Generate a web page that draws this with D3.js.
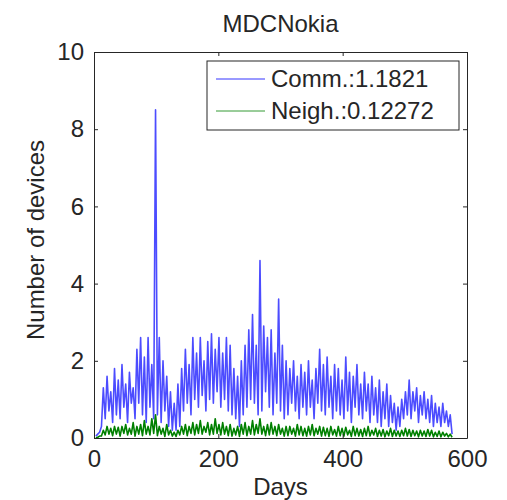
<!DOCTYPE html>
<html>
<head>
<meta charset="utf-8">
<script src="https://cdn.jsdelivr.net/npm/d3@7"></script>
<style>
  body { margin: 0; background: #fff; }
  text { font-family: "Liberation Sans", Arial, Helvetica, sans-serif; fill: #262626; }
</style>
</head>
<body>
<div id="chart"></div>
<script>
// sampling of the series: first day and step (days)
var startDay = 3, stepDay = 3;

// Comm. series (every 3 days)
var commValues = [
  0.05, 0.1, 0.15,
  0.3, 1.3, 0.5, 1.6, 0.7, 1.2, 0.4, 1.8, 0.6, 1.5,
  0.5, 1.9, 0.8, 1.4, 0.4, 1.7, 0.9, 1.3, 0.5, 2.3,
  0.9, 2.6, 0.6, 2.1, 0.4, 2.6, 0.8, 1.9, 0.5, 8.5,
  0.6, 2.6, 0.4, 2.0, 0.7, 1.6, 0.3, 1.2, 0.2, 0.9,
  0.2, 1.4, 0.3, 1.8, 0.7, 2.3, 0.9, 1.9, 0.6, 2.6,
  1.0, 2.2, 0.8, 2.6, 1.1, 2.0, 0.7, 2.5, 1.0, 2.7,
  0.9, 2.3, 1.2, 2.6, 0.8, 2.2, 1.0, 2.6, 0.7, 2.4,
  0.6, 1.8, 0.5, 1.6, 0.3, 2.0, 0.6, 2.4, 0.8, 2.8,
  1.0, 3.2, 0.9, 2.4, 0.6, 4.6, 0.7, 2.9, 1.2, 2.6,
  0.8, 2.8, 0.6, 2.2, 0.9, 3.6, 0.7, 2.4, 0.5, 2.0,
  0.6, 1.8, 0.9, 2.0, 0.7, 1.6, 0.5, 1.9, 0.8, 1.7,
  0.6, 2.0, 0.8, 1.5, 0.5, 1.8, 0.9, 2.3, 0.7, 1.9,
  0.6, 2.1, 0.8, 1.6, 0.5, 1.9, 0.7, 1.8, 0.6, 1.5,
  0.5, 2.1, 0.7, 1.7, 0.4, 1.6, 0.8, 1.9, 0.6, 1.4,
  0.5, 1.7, 0.7, 1.4, 0.4, 1.6, 0.6, 1.3, 0.4, 1.5,
  0.3, 1.2, 0.5, 1.4, 0.3, 1.1, 0.4, 0.9, 0.2, 0.8,
  0.3, 1.0, 0.5, 1.2, 0.6, 1.5, 0.5, 1.2, 0.7, 1.3,
  0.4, 1.1, 0.6, 1.2, 0.5, 1.0, 0.4, 1.1, 0.3, 0.9,
  0.4, 0.8, 0.3, 0.9, 0.4, 0.7, 0.3, 0.6, 0.1
];

// Neigh. series (every 3 days)
var neighValues = [
  0.0, 0.02, 0.05,
  0.05, 0.2, 0.08, 0.3, 0.1, 0.25, 0.06, 0.3, 0.1, 0.28,
  0.05, 0.3, 0.12, 0.35, 0.08, 0.25, 0.1, 0.4, 0.05, 0.3,
  0.1, 0.35, 0.06, 0.45, 0.1, 0.3, 0.08, 0.5, 0.12, 0.6,
  0.06, 0.3, 0.1, 0.25, 0.04, 0.35, 0.08, 0.2, 0.05, 0.15,
  0.04, 0.2, 0.08, 0.3, 0.1, 0.35, 0.06, 0.3, 0.12, 0.4,
  0.08, 0.35, 0.12, 0.45, 0.1, 0.3, 0.15, 0.4, 0.08, 0.35,
  0.1, 0.5, 0.12, 0.35, 0.08, 0.4, 0.1, 0.3, 0.06, 0.35,
  0.05, 0.25, 0.08, 0.3, 0.04, 0.35, 0.1, 0.4, 0.06, 0.3,
  0.1, 0.45, 0.08, 0.35, 0.12, 0.5, 0.1, 0.3, 0.06, 0.35,
  0.08, 0.4, 0.1, 0.3, 0.06, 0.35, 0.1, 0.25, 0.05, 0.3,
  0.06, 0.3, 0.1, 0.25, 0.05, 0.35, 0.08, 0.3, 0.06, 0.25,
  0.05, 0.3, 0.08, 0.35, 0.06, 0.25, 0.1, 0.3, 0.05, 0.28,
  0.06, 0.25, 0.04, 0.3, 0.08, 0.22, 0.05, 0.3, 0.06, 0.25,
  0.05, 0.28, 0.08, 0.2, 0.04, 0.3, 0.06, 0.25, 0.05, 0.22,
  0.04, 0.25, 0.06, 0.3, 0.05, 0.2, 0.08, 0.25, 0.04, 0.2,
  0.05, 0.22, 0.03, 0.18, 0.06, 0.25, 0.04, 0.2, 0.05, 0.18,
  0.04, 0.2, 0.06, 0.25, 0.05, 0.22, 0.04, 0.2, 0.06, 0.18,
  0.03, 0.2, 0.05, 0.18, 0.04, 0.22, 0.05, 0.2, 0.03, 0.15,
  0.04, 0.18, 0.03, 0.15, 0.05, 0.12, 0.03, 0.1, 0.02
];

var seriesNames = ["Comm.:1.1821", "Neigh.:0.12272"];
var seriesColors = ["#0000ff", "#008000"];
var xTicks = [0, 200, 400, 600];
var yTicks = [0, 2, 4, 6, 8, 10];

// set the dimensions and margins of the graph
var margin = {top: 52, right: 40, bottom: 62, left: 94},
    width = 507 - margin.left - margin.right,
    height = 500 - margin.top - margin.bottom;

var svg = d3.select("#chart")
  .append("svg")
    .attr("width", 507)
    .attr("height", 500)
  .append("g")
    .attr("transform", "translate(" + margin.left + "," + margin.top + ")");

var x = d3.scaleLinear().domain([0, 600]).range([0, width]);
var y = d3.scaleLinear().domain([0, 10]).range([height, 0]);

function toPoints(vals) {
  return vals.map(function(v, i) { return {day: startDay + i * stepDay, v: v}; });
}

var line = d3.line()
  .x(function(d) { return x(d.day); })
  .y(function(d) { return y(d.v); });

svg.append("clipPath").attr("id", "clip")
  .append("rect").attr("width", width).attr("height", height);

svg.append("path")
  .datum(toPoints(commValues))
  .attr("clip-path", "url(#clip)")
  .attr("fill", "none")
  .attr("stroke", seriesColors[0])
  .attr("stroke-opacity", 0.7)
  .attr("stroke-width", 1.6)
  .attr("stroke-linejoin", "round")
  .attr("d", line);

svg.append("path")
  .datum(toPoints(neighValues))
  .attr("clip-path", "url(#clip)")
  .attr("fill", "none")
  .attr("stroke", seriesColors[1])
  .attr("stroke-width", 1.6)
  .attr("stroke-linejoin", "round")
  .attr("d", line);

// axes, MATLAB style: box with inward ticks on all sides
var tickLen = 4;
svg.append("g")
  .attr("transform", "translate(0," + height + ")")
  .call(d3.axisBottom(x).tickValues(xTicks).tickSizeInner(-tickLen).tickSizeOuter(0).tickPadding(12));
svg.append("g")
  .call(d3.axisTop(x).tickValues(xTicks).tickSizeInner(-tickLen).tickSizeOuter(0).tickFormat(""));
svg.append("g")
  .call(d3.axisLeft(y).tickValues(yTicks).tickSizeInner(-tickLen).tickSizeOuter(0).tickPadding(10));
svg.append("g")
  .attr("transform", "translate(" + width + ",0)")
  .call(d3.axisRight(y).tickValues(yTicks).tickSizeInner(-tickLen).tickSizeOuter(0).tickFormat(""));

svg.selectAll(".domain").attr("stroke", "#262626").attr("stroke-width", 1);
svg.selectAll(".tick line").attr("stroke", "#262626");
svg.selectAll(".tick text")
  .style("font-family", "'Liberation Sans', Arial, sans-serif")
  .style("font-size", "24px")
  .attr("fill", "#262626");

// title and labels
svg.append("text")
  .attr("x", width / 2)
  .attr("y", -20)
  .attr("text-anchor", "middle")
  .style("font-size", "24px")
  .text("MDCNokia");

svg.append("text")
  .attr("x", width / 2)
  .attr("y", height + 57)
  .attr("text-anchor", "middle")
  .style("font-size", "24px")
  .text("Days");

svg.append("text")
  .attr("transform", "translate(-50," + (height / 2 - 5) + ")rotate(-90)")
  .attr("text-anchor", "middle")
  .style("font-size", "24px")
  .text("Number of devices");

// legend
var legend = svg.append("g").attr("transform", "translate(" + (207 - margin.left) + "," + (61 - margin.top) + ")");
legend.append("rect")
  .attr("width", 252).attr("height", 69)
  .attr("fill", "#fff").attr("stroke", "#262626").attr("stroke-width", 1);
seriesNames.forEach(function(name, i) {
  var ly = 18 + i * 32;
  legend.append("line")
    .attr("x1", 9).attr("x2", 58).attr("y1", ly).attr("y2", ly)
    .attr("stroke", seriesColors[i]).attr("stroke-width", 0.8);
  legend.append("text")
    .attr("x", 64).attr("y", ly + 8)
    .style("font-size", "24px")
    .text(name);
});
</script>
</body>
</html>
